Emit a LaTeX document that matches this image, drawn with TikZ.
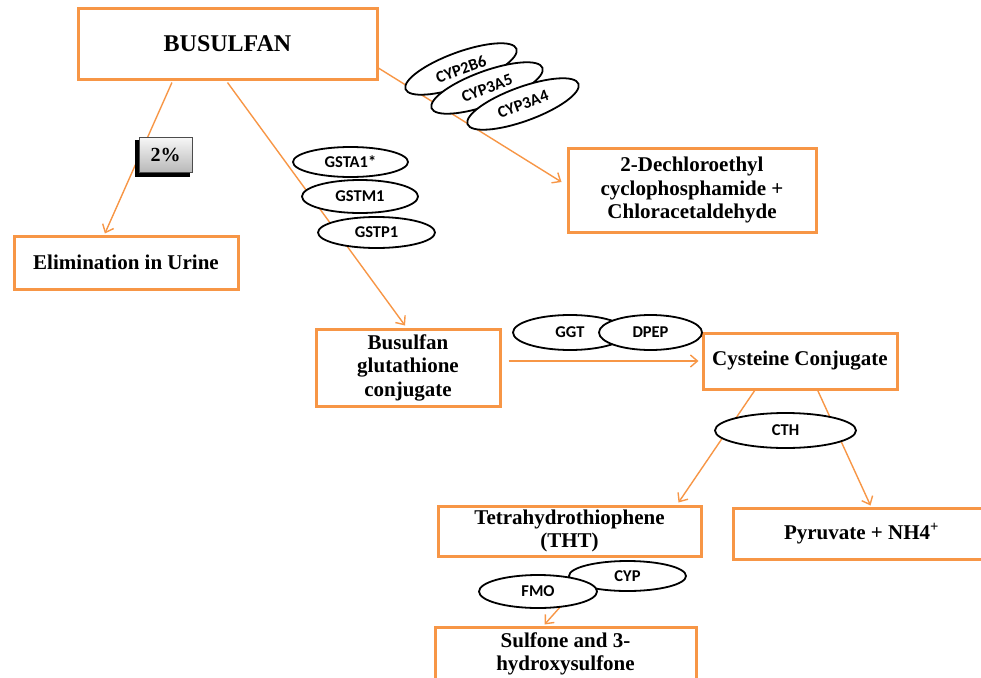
\documentclass[tikz,border=0pt]{standalone}
\usepackage{fontspec}
\setmainfont{Liberation Serif}
\newfontfamily\lblfont{Carlito}
\usetikzlibrary{arrows.meta,calc,shapes.geometric}
\definecolor{org}{RGB}{247,150,70}
\pgfdeclarelayer{bg}
\pgfsetlayers{bg,main}
\begin{document}
\begin{tikzpicture}[x=1pt,y=-1pt,
  box/.style={draw=org, line width=3pt, fill=white, align=center,
    font=\fontsize{21}{23.5}\selectfont\bfseries, inner sep=0pt},
  enz/.style={ellipse, draw=black, line width=1.8pt, fill=white, inner sep=0pt,
    font=\lblfont\fontsize{16.5}{18}\selectfont\bfseries},
  conn/.style={draw=org, line width=1.4pt, -{Straight Barb[length=7pt,width=12pt]}}]
\useasboundingbox (0,0) rectangle (981,677);
\clip (0,0) rectangle (981,677);

% boxes
\node[box, minimum width=299, minimum height=70, font=\fontsize{24}{28}\selectfont\bfseries] (bus) at (227.5,44) {BUSULFAN};
\node[box, minimum width=224, minimum height=53] (urine) at (126,262.5) {Elimination in Urine};
\node[box, minimum width=248, minimum height=84] (dech) at (692,190) {2-Dechloroethyl\\cyclophosphamide +\\Chloracetaldehyde};
\node[box, minimum width=184, minimum height=77] (glu) at (408,367.5) {Busulfan\\glutathione\\conjugate};
\node[box, minimum width=194, minimum height=56] (cys) at (800,361) {Cysteine Conjugate};
\node[box, minimum width=263, minimum height=50] (tht) at (569.5,531) {Tetrahydrothiophene\\(THT)};
\node[box, minimum width=257, minimum height=51] (pyr) at (861.5,533.5) {Pyruvate + NH4\textsuperscript{+}};
\node[box, minimum width=261, minimum height=54] (sul) at (565.5,654) {Sulfone and 3-\\hydroxysulfone};

% percentage tag with dark shadow at left and bottom
\fill[black] (135,139.5) rectangle (190,177);
\node[draw=black!70, line width=0.8pt, top color=gray!6, bottom color=gray!55,
  minimum width=53, minimum height=35, inner sep=0pt,
  font=\fontsize{20}{24}\selectfont\bfseries]
  (pct) at (165.5,154.5) {2\%};

% enzymes
\node[enz, minimum width=115, minimum height=30] (gsta) at (350.5,162) {GSTA1*};
\node[enz, minimum width=116, minimum height=33] (gstm) at (360,196.5) {GSTM1};
\node[enz, minimum width=117, minimum height=31] (gstp) at (376.5,232.5) {GSTP1};
\node[enz, minimum width=118, minimum height=34, rotate=20] (cyp2b6) at (461,69) {CYP2B6};
\node[enz, minimum width=118, minimum height=34, rotate=20] (cyp3a5) at (487,88) {CYP3A5};
\node[enz, minimum width=118, minimum height=34, rotate=20] (cyp3a4) at (523,104) {CYP3A4};
\node[enz, minimum width=114, minimum height=35] (ggt) at (570,332.5) {GGT};
\node[enz, minimum width=103, minimum height=35] (dpep) at (650.5,332.5) {DPEP};
\node[enz, minimum width=141, minimum height=35] (cth) at (785.5,430.5) {CTH};
\node[enz, minimum width=117, minimum height=30] (cyp) at (627.5,576) {CYP};
\node[enz, minimum width=118, minimum height=33] (fmo) at (538,591.5) {FMO};

% connectors
\begin{pgfonlayer}{bg}
\draw[conn] ($(bus.south west)!0.316!(bus.south east)+(0,2)$) -- ($(urine.north west)!0.407!(urine.north east)+(0,-1)$);
\draw[conn] ($(bus.south)+(0,2)$) -- ($(glu.north)+(-3,-2)$);
\draw[conn] ($(bus.north east)!0.83!(bus.south east)$) -- ($(dech.west)+(-5,-8)$);
\draw[conn] ($(glu.east |- cys.west)+(7,0)$) -- ($(cys.west)+(-3,0)$);
\draw[conn] ($(cys.south west)!0.27!(cys.south east)$) -- ($(tht.north east)+(-24,-2)$);
\draw[conn] ($(cys.south west)!0.59!(cys.south east)$) -- ($(pyr.north west)+(139,-1)$);
\draw[conn] ($(fmo.center)+(36,0)$) -- ($(sul.north west)+(111,-1)$);
\end{pgfonlayer}
\end{tikzpicture}
\end{document}
